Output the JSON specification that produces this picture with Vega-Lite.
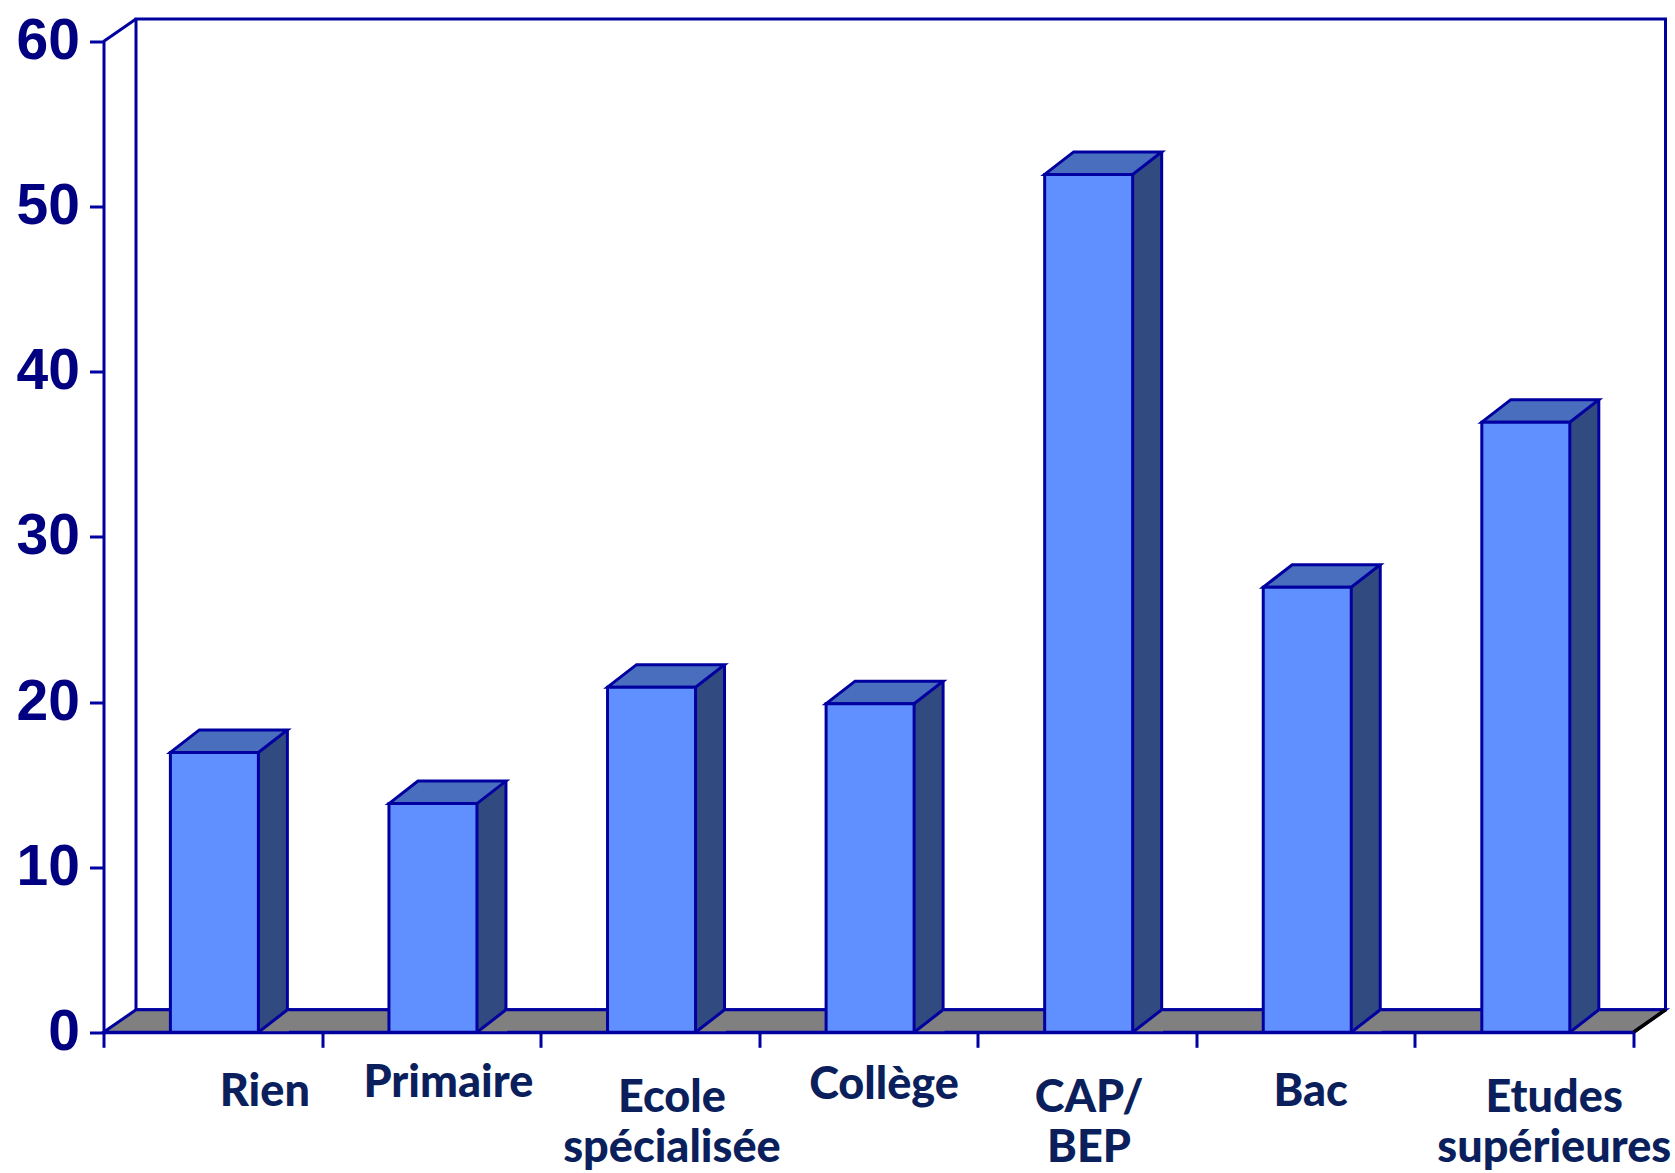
{
"$schema":"https://vega.github.io/schema/vega-lite/v6.json",
"autosize":{"type":"none"},
"padding":{"left":103.5,"top":41.5,"right":41.5,"bottom":140.7},
"width":1530,"height":990.8,
"background":"white",
"config":{"view":{"stroke":null}},
"data":{"values":[
{"niveau":"Rien","label":"Rien","effectif":16.95},
{"niveau":"Primaire","label":"Primaire","effectif":13.85},
{"niveau":"Ecole spécialisée","label":"Ecole\nspécialisée","effectif":20.9},
{"niveau":"Collège","label":"Collège","effectif":19.9},
{"niveau":"CAP/BEP","label":"CAP/\nBEP","effectif":51.95},
{"niveau":"Bac","label":"Bac","effectif":26.95},
{"niveau":"Etudes supérieures","label":"Etudes\nsupérieures","effectif":36.95}
]},
"layer":[
{"data":{"values":[{"element":"mur"}]},"mark":{"type":"point","filled":true,"opacity":1,"size":4,"fill":"white","stroke":"#0000A0","strokeWidth":3,"shape":"M -732.5 -22.5 L 797 -22.5 L 797 -1013.3 L -732.5 -1013.3 Z"},
 "encoding":{"y":{"datum":0,"type":"quantitative","title":null}}},
{"data":{"values":[{"element":"sol"}]},"mark":{"type":"point","filled":true,"opacity":1,"size":4,"fill":"#808080","stroke":"#0000A0","strokeWidth":3,"shape":"M -765 0 L -732.5 -22.5 L 797 -22.5 L 765 0 Z"},
 "encoding":{"y":{"datum":0,"type":"quantitative","title":null}}},
{"data":{"values":[{"element":"arete"}]},"mark":{"type":"point","filled":false,"opacity":1,"size":4,"stroke":"#000000","strokeWidth":3.5,"shape":"M 765 0 L 797 -22.5"},
 "encoding":{"y":{"datum":0,"type":"quantitative","title":null}}},
{"data":{"values":[{"element":"coin"}]},"mark":{"type":"point","filled":false,"opacity":1,"size":4,"stroke":"#0000A0","strokeWidth":3,"shape":"M -765 0 L -732.5 -22.5"},
 "encoding":{"y":{"datum":60,"type":"quantitative","title":null}}},
{"encoding":{
"x":{"field":"niveau","type":"nominal","sort":null,"title":null,
"scale":{"paddingInner":0,"paddingOuter":0,"round":false},
"axis":{"labels":false,"tickBand":"extent","tickSize":15,"tickWidth":3,"tickColor":"#0000A0","domainColor":"#0000A0","domainWidth":3,"zindex":1,"grid":false}},
"y":{"field":"effectif","type":"quantitative","title":null,
"scale":{"domain":[0,60],"nice":false},
"axis":{"values":[0,10,20,30,40,50,60],"tickSize":14,"tickWidth":3,"tickColor":"#0000A0","domainColor":"#0000A0","domainWidth":3,"labelColor":"#000080","labelFont":"Liberation Sans","labelFontWeight":"bold","labelFontSize":57,"labelPadding":10,"zindex":1,"grid":false}}
},
"layer":[
{"mark":{"type":"bar","size":29,"fill":"#314A80","xOffset":60.1,"yOffset":-22.5},
 "encoding":{"y2":{"datum":0}}},
{"mark":{"type":"point","filled":true,"opacity":1,"size":4,"fill":"#808080","stroke":null,"shape":"M 45.6 0 L 74.6 -22.5 L 76 -20 L 76 0 Z"},
 "encoding":{"y":{"datum":0}}},
{"mark":{"type":"point","filled":false,"opacity":1,"size":4,"stroke":"#0000A0","strokeWidth":3,"shape":"M 45.6 0 L 74.6 -22.5"},
 "encoding":{"y":{"datum":0}}},
{"mark":{"type":"rule","stroke":"#0000A0","strokeWidth":3,"xOffset":74.6,"yOffset":-22.5,"y2Offset":-22.5},
 "encoding":{"y2":{"datum":0}}},
{"mark":{"type":"point","filled":true,"opacity":1,"size":4,"fill":"#4A6EBE","stroke":"#0000A0","strokeWidth":3,"shape":"M -42.4 0 L -13.4 -22.5 L 74.6 -22.5 L 45.6 0 Z"}},
{"mark":{"type":"bar","size":88,"fill":"#6090FF","stroke":"#0000A0","strokeWidth":3,"xOffset":1.6},
 "encoding":{"y2":{"datum":0}}},
{"transform":[{"filter":"datum.niveau=='Rien'"}],"mark":{"type":"text","font":"Lato","fontWeight":900,"fontSize":45,"fill":"#0A1F5C","baseline":"alphabetic","lineBreak":"\n","lineHeight":50,"dx":52,"dy":74},"encoding":{"text":{"field":"label"},"y":{"datum":0}}},
{"transform":[{"filter":"datum.niveau=='Primaire'"}],"mark":{"type":"text","font":"Lato","fontWeight":900,"fontSize":45,"fill":"#0A1F5C","baseline":"alphabetic","lineBreak":"\n","lineHeight":50,"dx":17,"dy":65},"encoding":{"text":{"field":"label"},"y":{"datum":0}}},
{"transform":[{"filter":"datum.niveau=='Ecole spécialisée'"}],"mark":{"type":"text","font":"Lato","fontWeight":900,"fontSize":45,"fill":"#0A1F5C","baseline":"alphabetic","lineBreak":"\n","lineHeight":50,"dx":22,"dy":80},"encoding":{"text":{"field":"label"},"y":{"datum":0}}},
{"transform":[{"filter":"datum.niveau=='Collège'"}],"mark":{"type":"text","font":"Lato","fontWeight":900,"fontSize":45,"fill":"#0A1F5C","baseline":"alphabetic","lineBreak":"\n","lineHeight":50,"dx":15.5,"dy":67},"encoding":{"text":{"field":"label"},"y":{"datum":0}}},
{"transform":[{"filter":"datum.niveau=='CAP/BEP'"}],"mark":{"type":"text","font":"Lato","fontWeight":900,"fontSize":45,"fill":"#0A1F5C","baseline":"alphabetic","lineBreak":"\n","lineHeight":50,"dx":2,"dy":80},"encoding":{"text":{"field":"label"},"y":{"datum":0}}},
{"transform":[{"filter":"datum.niveau=='Bac'"}],"mark":{"type":"text","font":"Lato","fontWeight":900,"fontSize":45,"fill":"#0A1F5C","baseline":"alphabetic","lineBreak":"\n","lineHeight":50,"dx":5,"dy":74},"encoding":{"text":{"field":"label"},"y":{"datum":0}}},
{"transform":[{"filter":"datum.niveau=='Etudes supérieures'"}],"mark":{"type":"text","font":"Lato","fontWeight":900,"fontSize":45,"fill":"#0A1F5C","baseline":"alphabetic","lineBreak":"\n","lineHeight":50,"dx":30,"dy":80},"encoding":{"text":{"field":"label"},"y":{"datum":0}}}
]}
]
}
